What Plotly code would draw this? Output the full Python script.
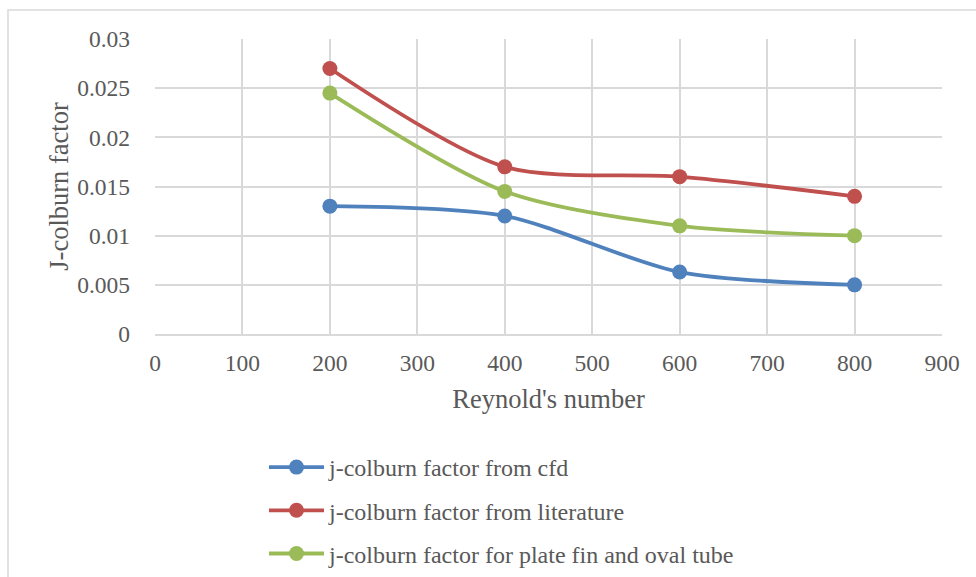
import plotly.graph_objects as go

reynolds = [200, 400, 600, 800]
j_cfd = [0.013, 0.012, 0.0063, 0.005]
j_literature = [0.027, 0.017, 0.016, 0.014]
j_plate_fin = [0.0245, 0.0145, 0.011, 0.010]

names = ["j-colburn factor from cfd",
         "j-colburn factor from literature",
         "j-colburn factor for plate fin and oval tube"]
colors = ["#4F81BD", "#C0504D", "#9BBB59"]
series = [j_cfd, j_literature, j_plate_fin]

W, H = 976, 577
L, R, T, B = 155, 34, 39, 243
pw, ph = W - L - R, H - T - B

def px_x(x):
    return (x - L) / pw

def px_y(y):
    return (H - B - y) / ph

fig = go.Figure()
for i, (nm, c, ys) in enumerate(zip(names, colors, series)):
    fig.add_trace(go.Scatter(
        x=reynolds, y=ys, name=nm, mode="lines+markers",
        line=dict(color=c, width=3.8, shape="spline", smoothing=0.8),
        marker=dict(color=c, size=15),
        legendgroup=str(i),
    ))

font = "Liberation Serif, Times New Roman, serif"
fig.update_layout(
    width=W, height=H,
    margin=dict(l=L, r=R, t=T, b=B, autoexpand=False),
    paper_bgcolor="white", plot_bgcolor="white",
    font=dict(family=font, size=23.5, color="#595959"),
    showlegend=True,
    legend=dict(x=px_x(264), y=px_y(445), xanchor="left", yanchor="top",
                font=dict(size=24, color="#595959"), tracegroupgap=9,
                itemwidth=55, bgcolor="rgba(0,0,0,0)"),
    xaxis=dict(range=[0, 900], dtick=100, tick0=0, showgrid=True,
               gridcolor="#D9D9D9", gridwidth=1.5, zeroline=False,
               showline=True, linecolor="#D9D9D9", linewidth=1.5,
               ticks="", ticklabelstandoff=7,
               title=dict(text="Reynold's number", font=dict(size=26.5), standoff=14)),
    yaxis=dict(range=[0, 0.03], dtick=0.005, tick0=0, showgrid=True,
               gridcolor="#D9D9D9", gridwidth=1.5, zeroline=False,
               showline=False, ticks="", ticklabelstandoff=24,
               tickformat="~g",
               title=dict(text="J-colburn factor", font=dict(size=26.5), standoff=0)),
    shapes=[dict(type="rect", xref="paper", yref="paper",
                 x0=px_x(8), y0=px_y(10), x1=px_x(1000), y1=px_y(600),
                 line=dict(color="#D9D9D9", width=1.5), layer="below")],
)

fig.write_html("out.html")
